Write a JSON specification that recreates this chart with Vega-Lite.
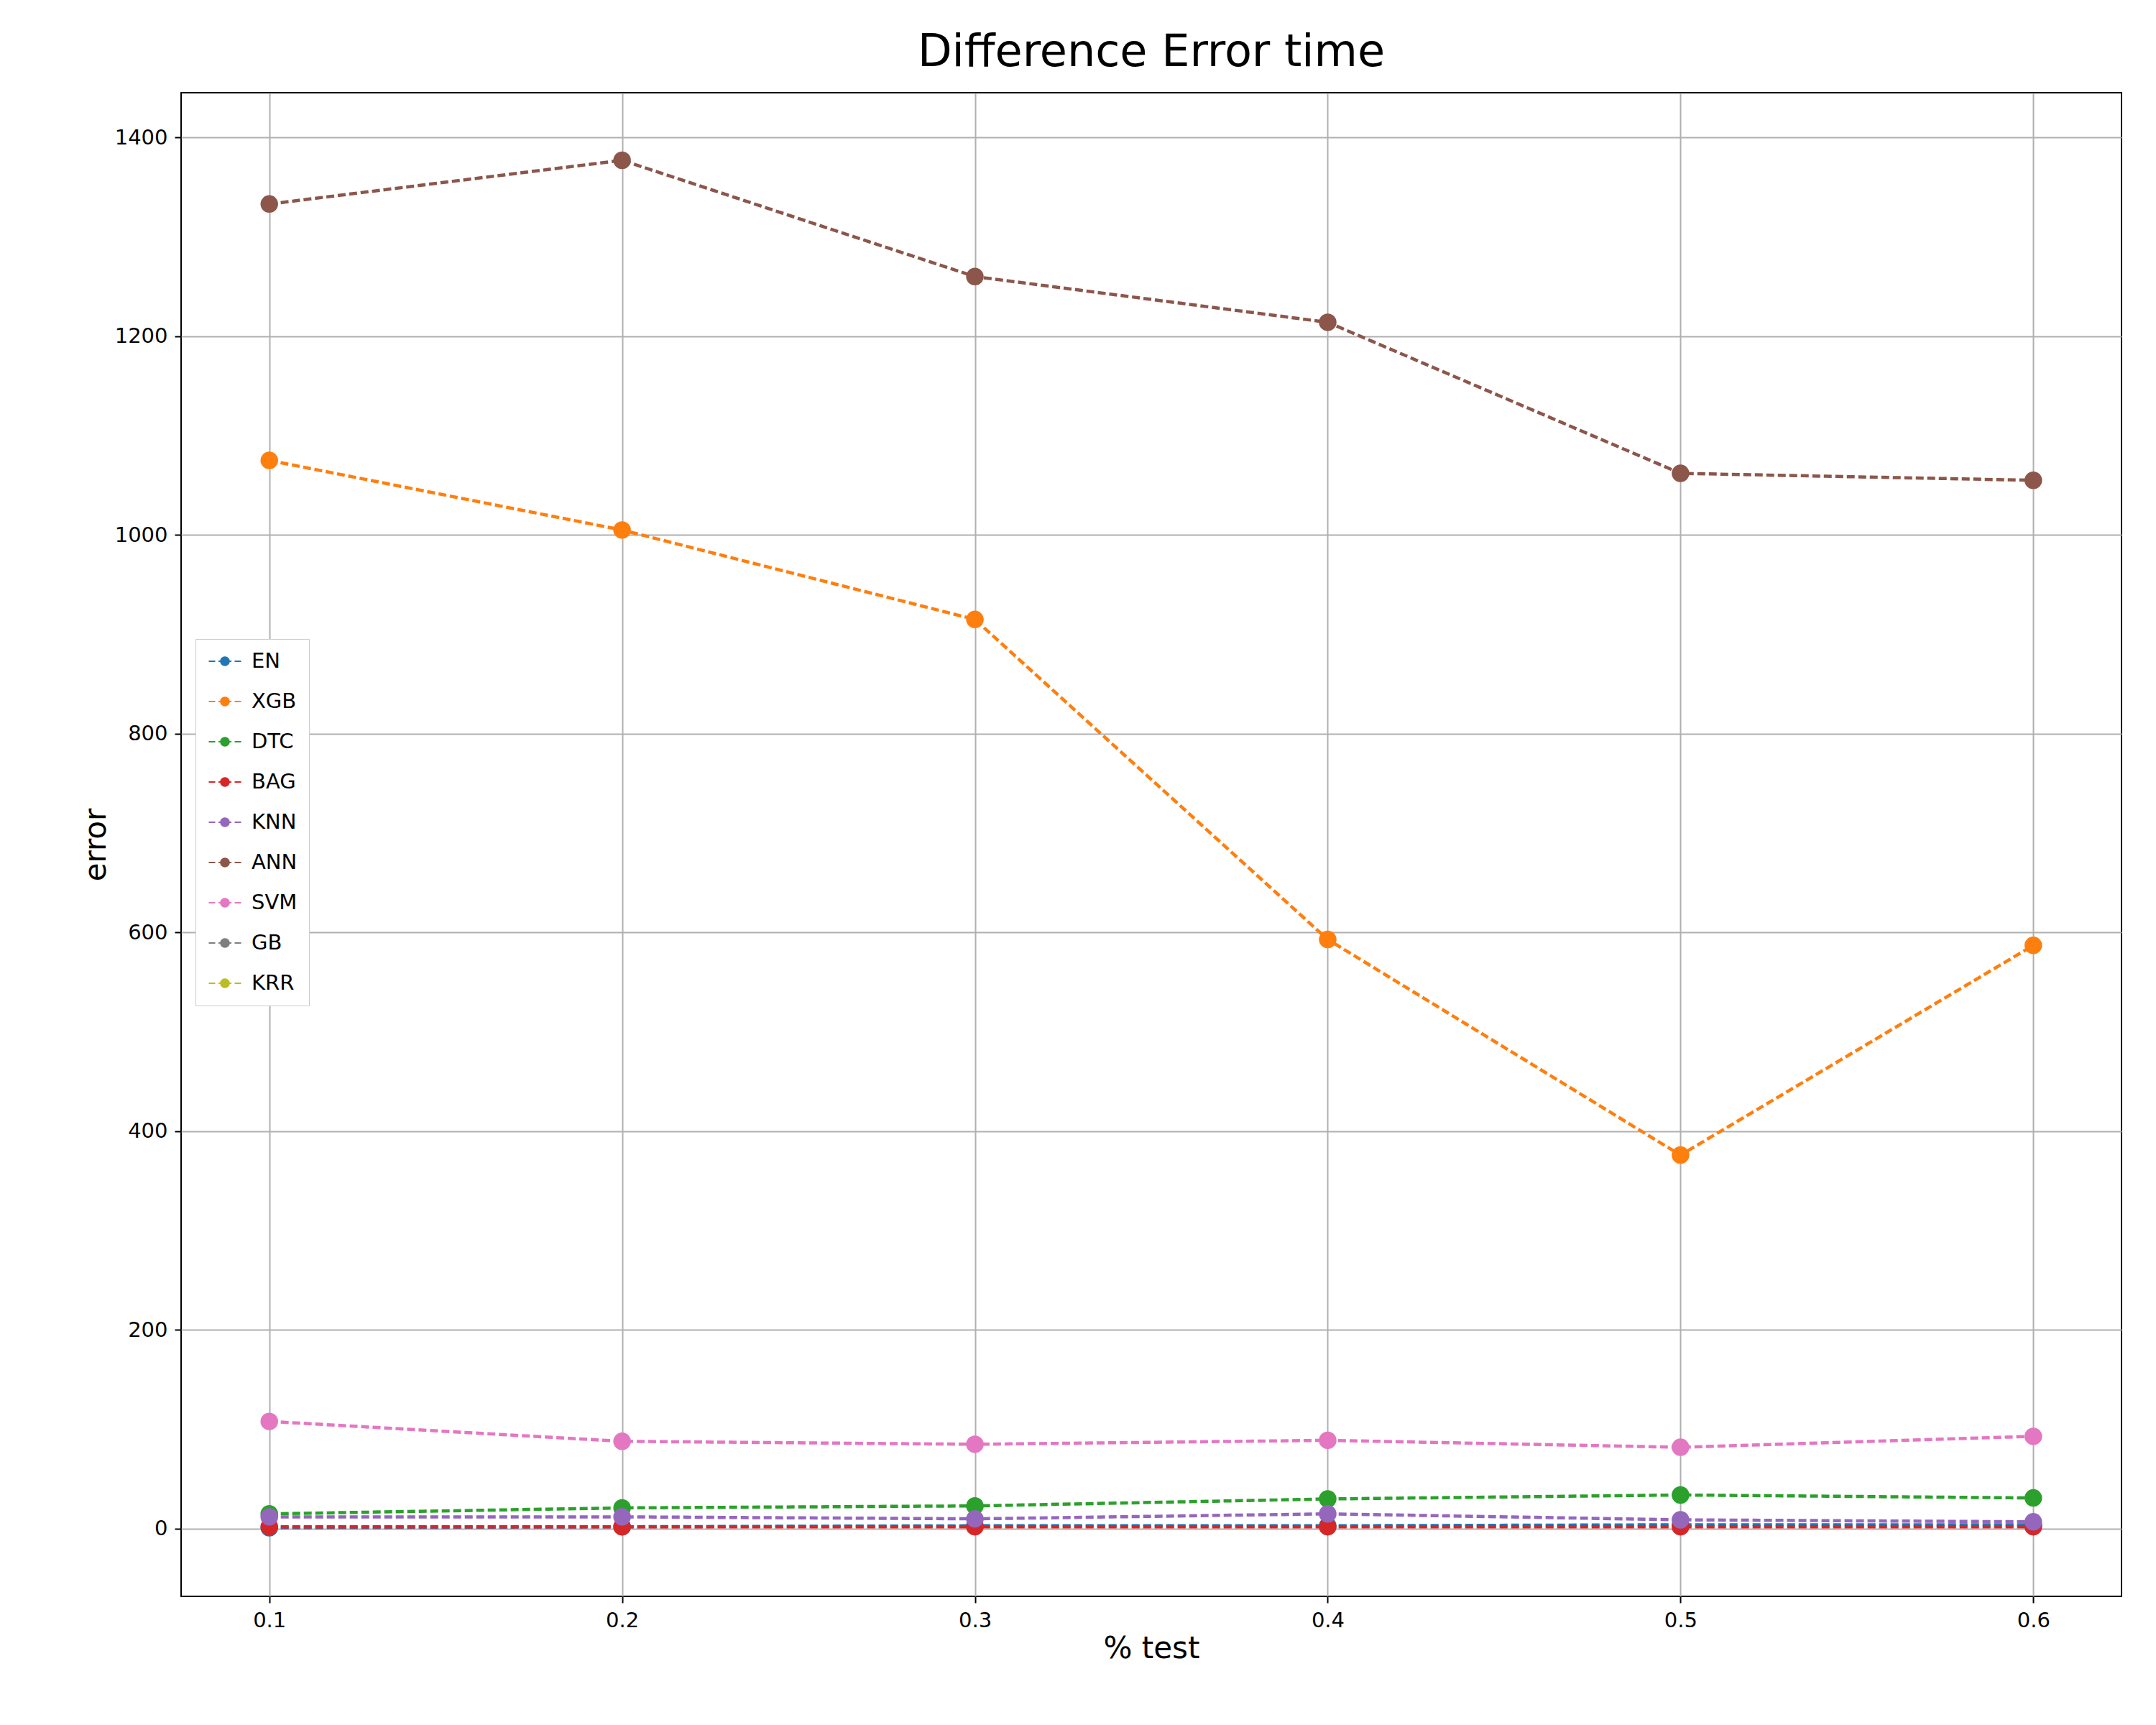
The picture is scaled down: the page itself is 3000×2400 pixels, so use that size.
{
  "$schema": "https://vega.github.io/schema/vega-lite/v6.json",
  "title": {"text": "Difference Error time", "fontSize": 62, "font": "DejaVu Sans", "fontWeight": "normal", "offset": 24},
  "background": "white",
  "width": 2700,
  "height": 2092,
  "padding": {"left": 112, "top": 42, "right": 40, "bottom": 20},
  "config": {
    "font": "DejaVu Sans",
    "view": {"stroke": "black", "strokeWidth": 2},
    "axis": {"labelFontSize": 29, "titleFontSize": 42, "titleFontWeight": "normal", "gridColor": "#b0b0b0", "gridWidth": 2, "tickColor": "black", "tickSize": 9, "tickWidth": 2, "domain": false, "labelColor": "black", "titleColor": "black", "labelPadding": 10}
  },
  "data": {"values": [
    {"t": 0.1, "m": "EN", "v": 1}, {"t": 0.2, "m": "EN", "v": 2}, {"t": 0.3, "m": "EN", "v": 3}, {"t": 0.4, "m": "EN", "v": 3}, {"t": 0.5, "m": "EN", "v": 4}, {"t": 0.6, "m": "EN", "v": 4},
    {"t": 0.1, "m": "XGB", "v": 1075}, {"t": 0.2, "m": "XGB", "v": 1005}, {"t": 0.3, "m": "XGB", "v": 915}, {"t": 0.4, "m": "XGB", "v": 593}, {"t": 0.5, "m": "XGB", "v": 376}, {"t": 0.6, "m": "XGB", "v": 587},
    {"t": 0.1, "m": "DTC", "v": 15}, {"t": 0.2, "m": "DTC", "v": 21}, {"t": 0.3, "m": "DTC", "v": 23}, {"t": 0.4, "m": "DTC", "v": 30}, {"t": 0.5, "m": "DTC", "v": 34}, {"t": 0.6, "m": "DTC", "v": 31},
    {"t": 0.1, "m": "BAG", "v": 2}, {"t": 0.2, "m": "BAG", "v": 2}, {"t": 0.3, "m": "BAG", "v": 2}, {"t": 0.4, "m": "BAG", "v": 2}, {"t": 0.5, "m": "BAG", "v": 2}, {"t": 0.6, "m": "BAG", "v": 2},
    {"t": 0.1, "m": "KNN", "v": 12}, {"t": 0.2, "m": "KNN", "v": 12}, {"t": 0.3, "m": "KNN", "v": 10}, {"t": 0.4, "m": "KNN", "v": 15}, {"t": 0.5, "m": "KNN", "v": 9}, {"t": 0.6, "m": "KNN", "v": 7},
    {"t": 0.1, "m": "ANN", "v": 1333}, {"t": 0.2, "m": "ANN", "v": 1377}, {"t": 0.3, "m": "ANN", "v": 1260}, {"t": 0.4, "m": "ANN", "v": 1214}, {"t": 0.5, "m": "ANN", "v": 1062}, {"t": 0.6, "m": "ANN", "v": 1055},
    {"t": 0.1, "m": "SVM", "v": 108}, {"t": 0.2, "m": "SVM", "v": 88}, {"t": 0.3, "m": "SVM", "v": 85}, {"t": 0.4, "m": "SVM", "v": 89}, {"t": 0.5, "m": "SVM", "v": 82}, {"t": 0.6, "m": "SVM", "v": 93}
  ]},
  "mark": {"type": "line", "strokeDash": [11, 5], "strokeWidth": 4.5, "point": {"filled": true, "size": 600, "opacity": 1}},
  "encoding": {
    "x": {"field": "t", "type": "quantitative", "title": "% test", "scale": {"domain": [0.075, 0.625], "nice": false, "zero": false}, "axis": {"values": [0.1, 0.2, 0.3, 0.4, 0.5, 0.6], "format": ".1f"}},
    "y": {"field": "v", "type": "quantitative", "title": "error", "scale": {"domain": [-68, 1445], "nice": false, "zero": false}, "axis": {"values": [0, 200, 400, 600, 800, 1000, 1200, 1400], "format": "d"}},
    "color": {
      "field": "m", "type": "nominal", "sort": null,
      "scale": {"domain": ["EN", "XGB", "DTC", "BAG", "KNN", "ANN", "SVM", "GB", "KRR"], "range": ["#1f77b4", "#ff7f0e", "#2ca02c", "#d62728", "#9467bd", "#8c564b", "#e377c2", "#7f7f7f", "#bcbd22"]},
      "legend": {"title": null, "orient": "none", "legendX": 20, "legendY": 760, "labelFontSize": 29, "symbolType": "M -1.5 -0.07 H -0.9 V 0.07 H -1.5 Z M -0.6 -0.07 H 0.6 V 0.07 H -0.6 Z M 0.9 -0.07 H 1.5 V 0.07 H 0.9 Z M 0.45 0 A 0.45 0.45 0 1 1 -0.45 0 A 0.45 0.45 0 1 1 0.45 0 Z", "symbolSize": 900, "symbolOffset": 10, "labelOffset": 22, "rowPadding": 26, "padding": 16, "strokeColor": "#cccccc", "fillColor": "white", "labelColor": "black", "symbolStrokeWidth": 0, "symbolOpacity": 1}
    }
  }
}
